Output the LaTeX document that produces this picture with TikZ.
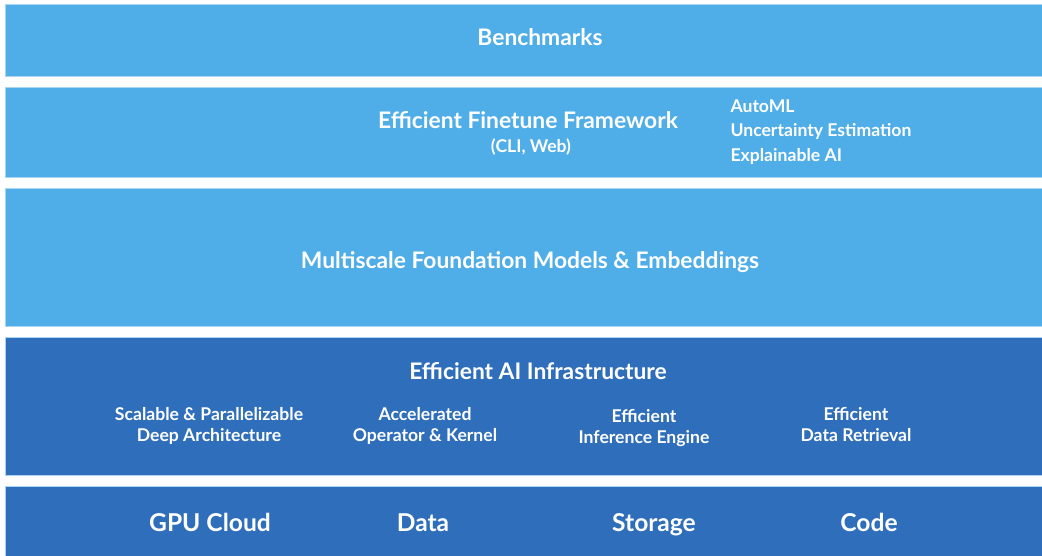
\documentclass[tikz,border=0pt]{standalone}
\usepackage{fontspec}
\setmainfont{Lato}
\definecolor{lightlayer}{HTML}{4FADE8}
\definecolor{darklayer}{HTML}{2F6EBA}
\definecolor{layeredge}{HTML}{A9D5F2}
\tikzset{
  layer/.style={draw=layeredge, line width=0.6pt, fill=#1, anchor=north west,
    inner sep=0pt, minimum width=1037pt},
  title/.style={text=white, font=\bfseries\fontsize{22.8}{26}\selectfont, align=center},
  item/.style={text=white, font=\bfseries\fontsize{17.6}{21}\selectfont, align=center},
  base/.style={text=white, font=\bfseries\fontsize{24.6}{28}\selectfont, anchor=base},
}
\begin{document}
\begin{tikzpicture}[x=1pt,y=-1pt]
  \useasboundingbox (0,0) rectangle (1042,555);
  % layers, top to bottom
  \node[layer=lightlayer, minimum height=72pt] (bench) at (5,4) {};
  \node[layer=lightlayer, minimum height=90pt] (finetune) at (5,87) {};
  \node[layer=lightlayer, minimum height=138pt] (models) at (5,188) {};
  \node[layer=darklayer, minimum height=138pt] (infra) at (5,337) {};
  \node[layer=darklayer, minimum height=72pt] (hw) at (5,486) {};
  % texts
  \node[title] (benchtxt) at (540,37) {Benchmarks};
  \node[title] (fttxt) at (528,120) {Efficient Finetune Framework};
  \node[item] (ftsub) at (531,147) {(CLI, Web)};
  \node[item, anchor=west] (automl) at (727,106) {AutoML};
  \node[item, anchor=west] (uncert) at (727,131) {Uncertainty Estimation};
  \node[item, anchor=west] (explain) at (727,156) {Explainable AI};
  \node[title] (modeltxt) at (530,262) {Multiscale Foundation Models \& Embeddings};
  \node[title] (infratxt) at (538,371) {Efficient AI Infrastructure};
  \node[item] (arch) at (209,426) {Scalable \& Parallelizable\\Deep Architecture};
  \node[item] (kernel) at (425,426) {Accelerated\\Operator \& Kernel};
  \node[item] (engine) at (644,428) {Efficient\\Inference Engine};
  \node[item] (retrieval) at (856,425) {Efficient\\Data Retrieval};
  \node[base] (gpu) at (210,531) {GPU Cloud};
  \node[base] (data) at (423,531) {Data};
  \node[base] (storage) at (654,531) {Storage};
  \node[base] (code) at (869,531) {Code};
\end{tikzpicture}
\end{document}
